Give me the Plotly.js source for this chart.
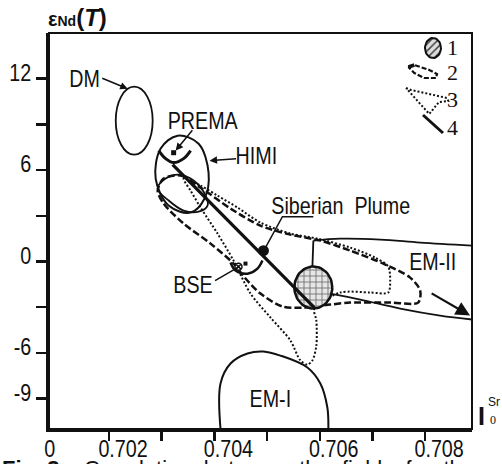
<!DOCTYPE html>
<html>
<head>
<meta charset="utf-8">
<script src="https://cdn.plot.ly/plotly-3.0.1.min.js"></script>
<style>
  html, body { margin: 0; padding: 0; background: #fff; }
  #chart { width: 502px; height: 464px; }
</style>
</head>
<body>
<div id="chart"></div>
<script>
// Initial 87Sr/86Sr (x) versus εNd(T) (y) for mantle reservoirs and basalt fields.

// Field 3 (dotted outline)
const field3X = [0.703415, 0.703737, 0.704060, 0.704439, 0.704874, 0.705443, 0.705954, 0.706580, 0.707053, 0.707300, 0.707337, 0.707300, 0.706958, 0.706390, 0.705897, 0.705935, 0.705935, 0.705860, 0.705765, 0.705632, 0.705443, 0.705064, 0.704685, 0.704363, 0.704060, 0.703737, 0.703548, 0.703415];
const field3Y = [5.44, 4.98, 4.32, 3.54, 2.55, 1.83, 1.50, 0.91, 0.25, -0.34, -1.26, -2.04, -2.04, -2.04, -3.09, -3.88, -5.52, -6.50, -6.77, -6.50, -5.19, -3.68, -2.11, 0.06, 1.83, 3.54, 4.65, 5.44];

// Field 2 (dashed outline)
const field2X = [0.703036, 0.703359, 0.703737, 0.704306, 0.704874, 0.705443, 0.706011, 0.706580, 0.707205, 0.707716, 0.707906, 0.707868, 0.707337, 0.706580, 0.706201, 0.705689, 0.705291, 0.704874, 0.704590, 0.704363, 0.703927, 0.703415, 0.703036, 0.702923, 0.703036];
const field2Y = [5.44, 5.64, 4.85, 3.47, 2.35, 1.76, 1.37, 0.71, -0.14, -1.06, -1.91, -2.70, -2.70, -2.70, -2.83, -3.03, -2.96, -2.11, -1.12, -0.14, 1.17, 2.49, 3.80, 4.65, 5.44];

// Rounded head of field 2 inside HIMI
const headX = [0.702923, 0.703074, 0.703321, 0.703605, 0.703832, 0.703870, 0.703700, 0.703415, 0.703131, 0.702923];
const headY = [4.78, 5.44, 5.70, 5.31, 4.32, 3.67, 3.27, 3.34, 4.00, 4.78];

// HIMI field
const himiX = [0.703302, 0.703700, 0.703889, 0.703813, 0.703548, 0.703131, 0.702885, 0.702980, 0.703302];
const himiY = [8.26, 7.73, 5.83, 4.13, 3.21, 3.67, 5.44, 7.41, 8.26];

// DM field (bounding box of the ellipse)
const dmBoxX = [0.702127, 0.702828];
const dmBoxY = [7.01, 11.48];

// EM-II field boundaries: upper, left, lower
const em2TopX = [0.705878, 0.706390, 0.707148, 0.707906, 0.708890];
const em2TopY = [1.37, 1.50, 1.44, 1.24, 1.04];
const em2LeftX = [0.705878, 0.705860];
const em2LeftY = [1.37, -0.40];
const em2BotX = [0.706201, 0.706769, 0.707527, 0.708285, 0.708890];
const em2BotY = [-2.11, -2.50, -3.09, -3.55, -3.81];

// EM-I field
const em1X = [0.704116, 0.704116, 0.704306, 0.704628, 0.704931, 0.705253, 0.705765, 0.706011, 0.706144, 0.706163];
const em1Y = [-11.0, -8.01, -6.70, -6.04, -5.91, -6.18, -6.96, -8.01, -9.59, -11.0];

// Field 1 (hatched): centre and semi-axes
const field1Center = [0.705878, -1.71];
const field1Radii = [0.00036, 1.38];

// Line 4: mixing trend PREMA -> field 1
const trendX = [0.703207, 0.705897];
const trendY = [6.36, -3.03];

// Siberian Plume
const plumeX = [0.704931];
const plumeY = [0.71];
const plumeLeaderX = [0.705878, 0.705291, 0.704969];
const plumeLeaderY = [2.94, 2.94, 0.91];

// PREMA
const premaArcX = [0.702942, 0.703074, 0.703226, 0.703415, 0.703548];
const premaArcY = [7.28, 6.75, 6.49, 6.75, 7.28];
const premaPtX = [0.703226];
const premaPtY = [7.14];

// BSE
const bseArcX = [0.704306, 0.704401, 0.704628, 0.704817, 0.704912];
const bseArcY = [-0.07, -0.60, -0.80, -0.47, 0.06];
const bseCircleX = [0.704457];
const bseCircleY = [-0.34];
const bseSquareX = [0.704590];
const bseSquareY = [-0.14];

// Axis ticks
const xTickVals = [0.702, 0.703, 0.704, 0.705, 0.706, 0.707, 0.708];
const xLabelVals = [0.702, 0.704, 0.706, 0.708];
const xLabelText = ['0.702', '0.704', '0.706', '0.708'];
const yTickVals = [12, 9, 6, 3, 0, -3, -6, -9];
const yLabelVals = [12, 6, 0, -6, -9];
const yLabelText = ['12', '6', '0', '-6', '-9'];

// Labels: text, x, y
const labelText = ['DM', 'PREMA', 'HIMI', 'Siberian&nbsp; Plume', 'BSE', 'EM-II', 'EM-I'];
const labelX = [0.701540, 0.703775, 0.704798, 0.706390, 0.703586, 0.708133, 0.705064];
const labelY = [12.0, 9.24, 6.95, 3.67, -1.52, 0.0, -9.0];

// Narrowed sans face used for labels and tick numbers
const SANS = "'Liberation Sans Narrow','Arial Narrow','Liberation Sans',Arial,sans-serif";
const PLAIN = "'Liberation Sans',Arial,sans-serif";
const SERIF = "'Liberation Serif','Times New Roman',serif";
const INK = '#111';
const NARROW = 0.82;

function ellipseOutline(c, r, n) {
  const xs = [], ys = [];
  for (let i = 0; i <= n; i++) {
    const t = 2 * Math.PI * i / n;
    xs.push(c[0] + r[0] * Math.cos(t));
    ys.push(c[1] + r[1] * Math.sin(t));
  }
  return [xs, ys];
}

const f1 = ellipseOutline(field1Center, field1Radii, 60);

const base = { type: 'scatter', mode: 'lines', hoverinfo: 'skip', showlegend: false };

const traces = [
  Object.assign({}, base, { x: field3X, y: field3Y, line: { color: INK, width: 2, dash: '2px,2px', shape: 'spline', smoothing: 0.8 } }),
  Object.assign({}, base, { x: field2X, y: field2Y, line: { color: INK, width: 2.5, dash: '7px,3px', shape: 'spline', smoothing: 0.8 } }),
  Object.assign({}, base, { x: headX, y: headY, line: { color: INK, width: 1.8, shape: 'spline', smoothing: 1 } }),
  Object.assign({}, base, { x: himiX, y: himiY, line: { color: INK, width: 2, shape: 'spline', smoothing: 1 } }),
  Object.assign({}, base, { x: em2TopX, y: em2TopY, line: { color: INK, width: 1.8, shape: 'spline' } }),
  Object.assign({}, base, { x: em2LeftX, y: em2LeftY, line: { color: INK, width: 1.8 } }),
  Object.assign({}, base, { x: em2BotX, y: em2BotY, line: { color: INK, width: 1.8, shape: 'spline' } }),
  Object.assign({}, base, { x: em1X, y: em1Y, line: { color: INK, width: 2, shape: 'spline', smoothing: 1 } }),
  Object.assign({}, base, { x: f1[0], y: f1[1], fill: 'toself', fillcolor: '#d8d8d8',
    fillpattern: { shape: '+', fgcolor: '#666', bgcolor: '#e6e6e6', size: 6, solidity: 0.25 },
    line: { color: INK, width: 2.5 } }),
  Object.assign({}, base, { x: trendX, y: trendY, line: { color: INK, width: 3.2 } }),
  Object.assign({}, base, { x: plumeLeaderX, y: plumeLeaderY, line: { color: INK, width: 1.5 } }),
  Object.assign({}, base, { x: premaArcX, y: premaArcY, line: { color: INK, width: 3, shape: 'spline' } }),
  Object.assign({}, base, { x: bseArcX, y: bseArcY, line: { color: INK, width: 2.5, shape: 'spline' } }),
  Object.assign({}, base, { mode: 'markers', x: plumeX, y: plumeY, marker: { color: INK, size: 11 } }),
  Object.assign({}, base, { mode: 'markers', x: premaPtX, y: premaPtY, marker: { color: INK, size: 5, symbol: 'square' } }),
  Object.assign({}, base, { mode: 'markers', x: bseCircleX, y: bseCircleY, marker: { color: '#fff', size: 7, symbol: 'circle-x', line: { color: INK, width: 1.5 } } }),
  Object.assign({}, base, { mode: 'markers', x: bseSquareX, y: bseSquareY, marker: { color: INK, size: 4, symbol: 'square' } })
];

// Key glyphs on an overlay [0,1] frame
const key1 = ellipseOutline([0.9078, 0.9621], [0.0189, 0.0253], 40);
const key2X = [0.8496, 0.8637, 0.8992, 0.9173, 0.9149, 0.8866, 0.8637, 0.8496];
const key2Y = [0.9141, 0.9192, 0.9066, 0.8965, 0.8864, 0.8864, 0.8990, 0.9141];
const key3X = [0.8440, 0.8560, 0.9410, 0.9440, 0.9220, 0.9070, 0.8990, 0.8440];
const key3Y = [0.8611, 0.8561, 0.8359, 0.8283, 0.8258, 0.8056, 0.7955, 0.8611];
const key4X = [0.8842, 0.9314];
const key4Y = [0.7929, 0.7475];
const keyBase = Object.assign({}, base, { xaxis: 'x2', yaxis: 'y2' });
traces.push(
  Object.assign({}, keyBase, { x: key1[0], y: key1[1], fill: 'toself', fillcolor: '#ccc',
    fillpattern: { shape: '/', fgcolor: '#444', bgcolor: '#ddd', size: 5, solidity: 0.3 },
    line: { color: INK, width: 2 } }),
  Object.assign({}, keyBase, { x: key2X, y: key2Y, line: { color: INK, width: 2.2, dash: '5px,2px' } }),
  Object.assign({}, keyBase, { x: key2X.slice(0, 2), y: key2Y.slice(0, 2), line: { color: INK, width: 3.5 } }),
  Object.assign({}, keyBase, { x: key3X, y: key3Y, line: { color: INK, width: 2, dash: '2px,2px' } }),
  Object.assign({}, keyBase, { x: key4X, y: key4Y, line: { color: INK, width: 3 } })
);

const annotations = [];
labelText.forEach((t, i) => annotations.push({
  x: labelX[i], y: labelY[i], xref: 'x', yref: 'y', text: t, showarrow: false,
  xanchor: 'center', yanchor: 'middle',
  font: { family: SANS, size: 24, color: INK }
}));

// Leader arrows: head x/y, tail ax/ay
const arrowHeadX = [0.702354, 0.703264, 0.703908, 0.704439, 0.708853];
const arrowHeadY = [11.34, 7.28, 6.62, -0.40, -3.55];
const arrowTailX = [0.701843, 0.703605, 0.704439, 0.703984, 0.708095];
const arrowTailY = [12.07, 8.72, 6.75, -1.32, -2.04];
const arrowHeads = [2, 2, 2, 0, 2];
const arrowWidths = [1.5, 1.5, 1.5, 1.5, 2.2];
arrowHeadX.forEach((hx, i) => annotations.push({
  x: hx, y: arrowHeadY[i], ax: arrowTailX[i], ay: arrowTailY[i],
  xref: 'x', yref: 'y', axref: 'x', ayref: 'y', text: '', showarrow: true,
  arrowhead: arrowHeads[i], arrowsize: i === 4 ? 1.3 : 1, arrowwidth: arrowWidths[i], arrowcolor: INK
}));

// Key numbers
const keyNumY = [0.9646, 0.899, 0.8333, 0.7626];
['1', '2', '3', '4'].forEach((t, i) => annotations.push({
  x: 0.955, y: keyNumY[i], xref: 'paper', yref: 'paper', text: t,
  xanchor: 'center', yanchor: 'middle',
  showarrow: false, font: { family: SERIF, size: 22, color: INK }
}));

// Axis titles, the broken-axis origin and the caption line
annotations.push(
  { x: -0.006, y: 1.0, xref: 'paper', yref: 'paper', xanchor: 'left', yanchor: 'bottom',
    text: '<b>ε</b><b><span style="font-size:14px">Nd</span></b><b><span style="font-size:24px">(<i>T</i>)</span></b>',
    showarrow: false, font: { family: PLAIN, size: 20, color: INK } },
  { x: 1.0225, y: 0.0328, xref: 'paper', yref: 'paper', xanchor: 'center', yanchor: 'middle',
    text: '<b>I</b>', showarrow: false, font: { family: PLAIN, size: 25, color: INK } },
  { x: 1.052, y: 0.068, xref: 'paper', yref: 'paper', xanchor: 'center', yanchor: 'middle',
    text: 'Sr', showarrow: false, font: { family: PLAIN, size: 12, color: INK } },
  { x: 1.0485, y: 0.0227, xref: 'paper', yref: 'paper', xanchor: 'center', yanchor: 'middle',
    text: '0', showarrow: false, font: { family: SERIF, size: 12, color: INK } },
  { x: 0, y: -0.048, xref: 'paper', yref: 'paper', xanchor: 'center', yanchor: 'middle',
    text: '0', showarrow: false, font: { family: SANS, size: 24, color: INK } },
  { x: -0.116, y: -0.062, xref: 'paper', yref: 'paper', xanchor: 'left', yanchor: 'top',
    text: '<b>Fig. 3.</b>   Correlation  between  the  fields  for  the',
    showarrow: false, font: { family: PLAIN, size: 22, color: INK } }
);

const layout = {
  width: 502, height: 464,
  margin: { l: 49, r: 30, t: 33, b: 35 },
  paper_bgcolor: '#fff', plot_bgcolor: '#fff',
  showlegend: false,
  xaxis: {
    range: [0.70086, 0.70889], showgrid: false, zeroline: false,
    showline: true, linewidth: 3, linecolor: INK,
    ticks: '', tickvals: xLabelVals, ticktext: xLabelText,
    ticklabelshift: 14, ticklabelstandoff: -4,
    tickfont: { family: SANS, size: 24, color: INK },
    minor: { tickmode: 'array', tickvals: xTickVals, ticks: 'outside', ticklen: 9, tickwidth: 2.5, tickcolor: INK, showgrid: false }
  },
  yaxis: {
    range: [-11, 15], showgrid: false, zeroline: false,
    showline: true, linewidth: 3, linecolor: INK,
    ticks: '', tickvals: yLabelVals, ticktext: yLabelText,
    ticklabelshift: -6, ticklabelstandoff: 10,
    tickfont: { family: SANS, size: 24, color: INK },
    minor: { tickmode: 'array', tickvals: yTickVals, ticks: 'outside', ticklen: 10, tickwidth: 2.5, tickcolor: INK, showgrid: false }
  },
  xaxis2: { range: [0, 1], overlaying: 'x', visible: false, fixedrange: true },
  yaxis2: { range: [0, 1], overlaying: 'y', visible: false, fixedrange: true },
  shapes: [
    { type: 'rect', xref: 'paper', yref: 'paper', x0: 0, x1: 1, y0: 0, y1: 1, line: { color: INK, width: 2 }, layer: 'above' },
    { type: 'circle', xref: 'x', yref: 'y', x0: dmBoxX[0], x1: dmBoxX[1], y0: dmBoxY[0], y1: dmBoxY[1], line: { color: INK, width: 1.8 } }
  ],
  annotations: annotations
};

// Compress the narrow-face texts horizontally (glyph widths of a condensed sans)
function narrowTexts(gd) {
  gd.querySelectorAll('text').forEach(t => {
    const fam = t.style.fontFamily || '';
    if (fam.indexOf('Narrow') < 0) return;
    const w = t.getComputedTextLength();
    if (w > 0) {
      t.setAttribute('textLength', (w * NARROW).toFixed(1));
      t.setAttribute('lengthAdjust', 'spacingAndGlyphs');
    }
  });
}

Plotly.newPlot('chart', traces, layout, { staticPlot: true, displayModeBar: false })
  .then(narrowTexts);
</script>
</body>
</html>
